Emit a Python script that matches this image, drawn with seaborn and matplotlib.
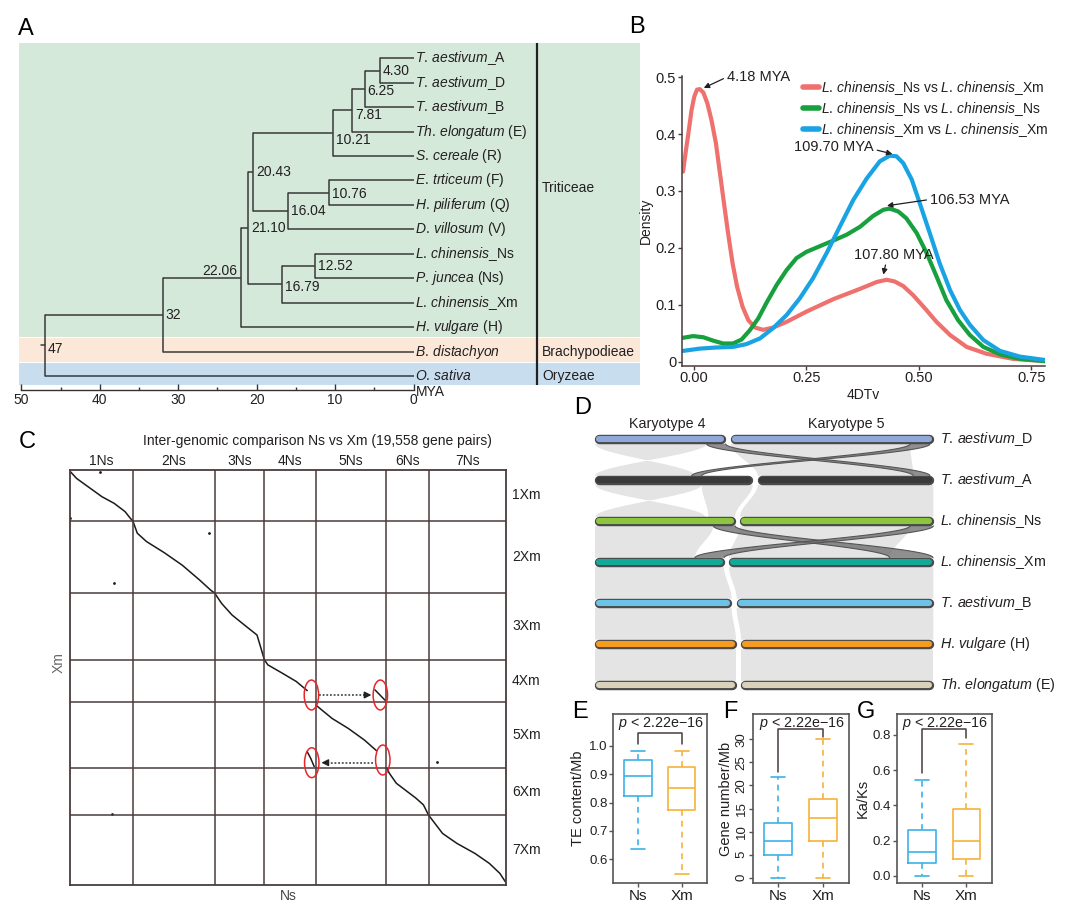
import numpy as np
import pandas as pd
import matplotlib
matplotlib.use('Agg')
import matplotlib.pyplot as plt
import seaborn as sns
from matplotlib.patches import Ellipse
from matplotlib.lines import Line2D

# ---------------- data ----------------
# A: dated phylogeny (node label = age in MYA), tips are indices
tip_italic = ['T. aestivum', 'T. aestivum', 'T. aestivum', 'Th. elongatum', 'S. cereale',
              'E. trticeum', 'H. piliferum', 'D. villosum', 'L. chinensis', 'P. juncea',
              'L. chinensis', 'H. vulgare', 'B. distachyon', 'O. sativa']
tip_suffix = ['_A', '_D', '_B', ' (E)', ' (R)', ' (F)', ' (Q)', ' (V)', '_Ns', ' (Ns)',
              '_Xm', ' (H)', '', '']
tree = ('47', 13, ('32', 12, ('22.06',
        ('21.10',
         ('20.43', ('10.21', ('7.81', ('6.25', ('4.30', 0, 1), 2), 3), 4),
                   ('16.04', ('10.76', 5, 6), 7)),
         ('16.79', ('12.52', 8, 9), 10)),
        11)))
groups = ['Triticeae', 'Brachypodieae', 'Oryzeae']
group_rows = [5.3, 12, 13]
scale_ticks = [50, 40, 30, 20, 10, 0]

# B: 4DTv density curves
red_x = [-0.024, -0.018, -0.012, -0.005, 0.001, 0.007, 0.013, 0.021, 0.030, 0.039, 0.049, 0.058,
         0.067, 0.076, 0.086, 0.096, 0.108, 0.121, 0.136, 0.154, 0.176, 0.206, 0.250, 0.310,
         0.369, 0.406, 0.428, 0.446, 0.465, 0.487, 0.513, 0.539, 0.569, 0.606, 0.650, 0.709, 0.780]
red_y = [0.334, 0.369, 0.402, 0.443, 0.466, 0.478, 0.479, 0.473, 0.454, 0.425, 0.384, 0.331,
         0.278, 0.226, 0.173, 0.132, 0.097, 0.073, 0.060, 0.056, 0.060, 0.070, 0.088, 0.110,
         0.128, 0.140, 0.144, 0.141, 0.133, 0.117, 0.094, 0.070, 0.047, 0.026, 0.014, 0.005, 0.001]
green_x = [-0.024, -0.002, 0.021, 0.043, 0.065, 0.087, 0.106, 0.124, 0.143, 0.161, 0.184, 0.206,
           0.228, 0.250, 0.280, 0.310, 0.339, 0.369, 0.398, 0.421, 0.435, 0.454, 0.472, 0.495,
           0.517, 0.539, 0.561, 0.587, 0.613, 0.643, 0.680, 0.724, 0.780]
green_y = [0.042, 0.045, 0.043, 0.037, 0.032, 0.032, 0.039, 0.055, 0.076, 0.103, 0.135, 0.161,
           0.182, 0.193, 0.203, 0.213, 0.223, 0.237, 0.256, 0.267, 0.269, 0.264, 0.252, 0.226,
           0.191, 0.150, 0.108, 0.073, 0.047, 0.026, 0.013, 0.005, 0.001]
blue_x = [-0.024, 0.013, 0.050, 0.087, 0.117, 0.147, 0.176, 0.206, 0.235, 0.265, 0.295, 0.324,
          0.354, 0.384, 0.413, 0.435, 0.450, 0.465, 0.484, 0.502, 0.524, 0.546, 0.569, 0.591,
          0.613, 0.643, 0.680, 0.724, 0.780]
blue_y = [0.019, 0.023, 0.025, 0.026, 0.031, 0.041, 0.059, 0.082, 0.111, 0.147, 0.191, 0.237,
          0.284, 0.322, 0.352, 0.362, 0.361, 0.349, 0.320, 0.278, 0.226, 0.173, 0.126, 0.091,
          0.065, 0.038, 0.019, 0.009, 0.003]
LC_IT = r'$\it{L.\,chinensis}$'
pair_names = [LC_IT + '_Ns vs ' + LC_IT + '_Xm',
              LC_IT + '_Ns vs ' + LC_IT + '_Ns',
              LC_IT + '_Xm vs ' + LC_IT + '_Xm']
pair_colors = ['#ef716d', '#17a03d', '#1aa3e3']
peak_text = ['4.18 MYA', '109.70 MYA', '106.53 MYA', '107.80 MYA']
peak_xy = [(0.022, 0.481), (0.441, 0.365), (0.429, 0.274), (0.421, 0.153)]

# C: Ns vs Xm dot plot (positions scaled to 1000)
ns_chr = ['1Ns', '2Ns', '3Ns', '4Ns', '5Ns', '6Ns', '7Ns']
ns_len = [145, 187, 114, 117, 161, 98, 178]
xm_chr = ['1Xm', '2Xm', '3Xm', '4Xm', '5Xm', '6Xm', '7Xm']
xm_len = [124, 173, 161, 102, 159, 113, 168]
diag_blocks = [
    ([2, 16, 37, 74, 102, 127, 139, 145], [5, 21, 37, 65, 81, 101, 117, 124]),
    ([145, 155, 176, 217, 258, 298, 323, 332], [124, 153, 173, 200, 230, 266, 290, 297]),
    ([332, 348, 372, 405, 429, 437, 446], [297, 322, 350, 378, 398, 426, 458]),
    ([446, 454, 487, 519, 544], [458, 470, 490, 510, 532]),
    ([699, 711, 722], [530, 543, 555]),
    ([564, 601, 638, 675, 703], [567, 599, 623, 651, 677]),
    ([544, 552, 560], [679, 695, 715]),
    ([726, 732, 748, 773, 793, 810, 822], [718, 731, 755, 775, 791, 807, 832]),
    ([822, 830, 854, 887, 928, 961, 985, 1000], [832, 843, 876, 900, 924, 948, 972, 996]),
]
stray_x = [70, 319, 101, 96, 842, 2]
stray_y = [5, 153, 274, 830, 705, 117]
circle_xy = [(553.6, 542.5), (711.4, 542.5), (554.4, 705.5), (717, 699)]
move_from = [(572, 542.5), (695, 705.5)]
move_to = [(691, 542.5), (576.5, 705.5)]

# D: karyotype 4/5 synteny
d_italic = ['T. aestivum', 'T. aestivum', 'L. chinensis', 'L. chinensis', 'T. aestivum',
            'H. vulgare', 'Th. elongatum']
d_suffix = ['_D', '_A', '_Ns', '_Xm', '_B', ' (H)', ' (E)']
k4_len = [392, 473, 420, 387, 410, 423, 423]
k5_len = [608, 527, 580, 613, 590, 577, 577]
d_colors = ['#8fa8d9', '#3a3a3a', '#8cc63f', '#14a899', '#6dc3e7', '#f59b1d', '#d9d1ba']
# (upper row, karyotype src, start, end, karyotype dst, start, end)
syn_blocks = [
    (0, 4, 0, 335, 4, 300, 0), (0, 5, 0, 538, 5, 0, 467),
    (1, 4, 0, 320, 4, 330, 0), (1, 4, 320, 473, 4, 340, 420), (1, 5, 0, 527, 5, 0, 580),
    (2, 4, 0, 355, 4, 0, 300), (2, 5, 0, 510, 5, 0, 482),
    (3, 4, 0, 387, 4, 0, 410), (3, 5, 0, 613, 5, 0, 590),
    (4, 4, 0, 410, 4, 0, 423), (4, 5, 0, 590, 5, 0, 577),
    (5, 4, 0, 423, 4, 0, 423), (5, 5, 0, 577, 5, 0, 577),
]
trans_blocks = [
    (0, 4, 335, 392, 5, 467, 517), (0, 5, 538, 598, 4, 290, 320),
    (2, 4, 355, 420, 5, 482, 612), (2, 5, 510, 580, 4, 300, 387),
]

# E-G: box summaries (min, Q1, median, Q3, max)
genomes = ['Ns', 'Xm']
te_ns = [0.637, 0.823, 0.894, 0.950, 0.982]
te_xm = [0.547, 0.772, 0.852, 0.926, 0.982]
gene_ns = [0.0, 4.9, 7.95, 11.9, 21.9]
gene_xm = [0.0, 7.95, 12.9, 17.0, 30.0]
kaks_ns = [0.0, 0.070, 0.133, 0.258, 0.544]
kaks_xm = [0.0, 0.093, 0.197, 0.381, 0.749]
box_colors = ['#3cb2e6', '#f8b23c']

# ---------------- style ----------------
sns.set_theme(style='white')
plt.rcParams['font.family'] = ['Liberation Sans', 'DejaVu Sans']
plt.rcParams['mathtext.fontset'] = 'custom'
plt.rcParams['mathtext.rm'] = 'Liberation Sans'
plt.rcParams['mathtext.it'] = 'Liberation Sans:italic'
TXT = '#231f20'
DARK = '#4a3b3b'

W, H = 1080, 919
fig = plt.figure(figsize=(W / 100, H / 100), dpi=100)


def box(l, t, r, b):
    return [l / W, 1 - b / H, (r - l) / W, (b - t) / H]


def ftext(x, y, s, **kw):
    kw.setdefault('color', TXT)
    fig.text(x / W, 1 - y / H, s, **kw)


def itl(a, b=''):
    return r'$\it{' + a.replace(' ', r'\,') + '}$' + b


for lab, (x, y) in zip('ABCDEFG', [(26, 29), (637, 27), (27, 442), (583, 408),
                                     (580, 712), (730, 712), (866, 712)]):
    ftext(x, y, lab, fontsize=17, ha='center', va='center', color='black')

# ---------------- A ----------------
ax = fig.add_axes(box(18.6, 43, 640, 385))
ax.set_xlim(50.36, -28.87)
ax.set_ylim(13.37, -0.626)
ax.axis('off')
ax.axhspan(-0.7, 11.42, color='#d5e9db', lw=0)
ax.axhspan(11.46, 12.43, color='#fce8d9', lw=0)
ax.axhspan(12.47, 13.5, color='#c8deee', lw=0)
ax.axvline(-15.7, color='#222222', lw=1.6)
LC = '#3a3a3a'
nudge = {'7.81': 0.2, '10.21': 0.3, '47': 0.15, '16.79': 0.1, '6.25': 0.07, '10.76': 0.07}


def walk(node):
    if isinstance(node, int):
        return 0.0, float(node)
    lab, c1, c2 = node
    age = float(lab)
    ys = []
    for c in (c1, c2):
        a, y = walk(c)
        ax.plot([age, a], [y, y], color=LC, lw=1.1, solid_capstyle='butt')
        ys.append(y)
    ax.plot([age, age], ys, color=LC, lw=1.1)
    ym = sum(ys) / 2
    if lab == '22.06':
        ax.text(age + 0.4, ym - 0.27, lab, ha='right', va='center', fontsize=10, color=TXT)
    else:
        ax.text(age - 0.35, ym + nudge.get(lab, 0), lab, ha='left', va='center',
                fontsize=10, color=TXT)
    return age, ym


root_age, root_y = walk(tree)
ax.plot([root_age + 0.5, root_age], [root_y, root_y], color=LC, lw=1.1)
for i, (a, b) in enumerate(zip(tip_italic, tip_suffix)):
    ax.text(-0.2, i, itl(a, b), ha='left', va='center', fontsize=10, color=TXT)
for g, r in zip(groups, group_rows):
    ax.text(-16.4, r, g, ha='left', va='center', fontsize=10, color=TXT)

axs = fig.add_axes(box(21.4, 389, 413.6, 390))
axs.set_xlim(50, 0)
axs.set_ylim(0, 1)
axs.set_facecolor('none')
for s in ['top', 'left', 'right']:
    axs.spines[s].set_visible(False)
axs.spines['bottom'].set_color('#333333')
axs.spines['bottom'].set_linewidth(1)
axs.set_yticks([])
axs.set_xticks(scale_ticks)
axs.set_xticks([45, 35, 25, 15, 5], minor=True)
axs.tick_params(axis='x', which='major', direction='in', length=4, width=1, bottom=True,
                labelsize=10, pad=2, colors='#333333', labelcolor=TXT)
axs.tick_params(axis='x', which='minor', direction='in', length=2.5, width=1, bottom=True,
                colors='#333333')
ftext(416, 392, 'MYA', fontsize=10, ha='left', va='center')

# ---------------- B ----------------
axb = fig.add_axes(box(681.7, 76, 1045, 365.7))
dfb = pd.concat([
    pd.DataFrame({'dtv': red_x, 'density': red_y, 'pair': pair_names[0]}),
    pd.DataFrame({'dtv': green_x, 'density': green_y, 'pair': pair_names[1]}),
    pd.DataFrame({'dtv': blue_x, 'density': blue_y, 'pair': pair_names[2]}),
])
sns.lineplot(data=dfb, x='dtv', y='density', hue='pair', hue_order=pair_names,
             palette=dict(zip(pair_names, pair_colors)), estimator=None, sort=False,
             lw=3, legend=False, ax=axb)
axb.set_xlim(-0.027, 0.78)
axb.set_ylim(-0.007, 0.502)
for s in ['top', 'right']:
    axb.spines[s].set_visible(False)
for s in ['left', 'bottom']:
    axb.spines[s].set_color(DARK)
    axb.spines[s].set_linewidth(1.1)
axb.set_xticks([0, 0.25, 0.5, 0.75])
axb.set_xticklabels(['0.00', '0.25', '0.50', '0.75'])
axb.set_yticks([0, 0.1, 0.2, 0.3, 0.4, 0.5])
axb.set_yticklabels(['0', '0.1', '0.2', '0.3', '0.4', '0.5'])
axb.tick_params(left=True, bottom=True, length=3, width=1, colors=DARK, labelcolor=TXT,
                labelsize=10.5, pad=1)
axb.set_xlabel('4DTv', fontsize=10, color=TXT, labelpad=2)
axb.set_ylabel('Density', fontsize=10, color=TXT, labelpad=2)
handles = [Line2D([0], [0], color=c, lw=4) for c in pair_colors]
axb.legend(handles, pair_names, loc='upper left', bbox_to_anchor=(0.335, 0.99),
           frameon=False, fontsize=10, handlelength=1.1, handletextpad=0.2,
           labelspacing=0.22, borderpad=0, borderaxespad=0, labelcolor=TXT)
text_pos = [(0.073, 0.5), (0.4, 0.378), (0.524, 0.285), (0.445, 0.188)]
text_ha = ['left', 'right', 'left', 'center']
relpos = [(0, 0.5), (1, 0.3), (0, 0.5), (0.4, 0)]
for t, xy, tp, ha, rp in zip(peak_text, peak_xy, text_pos, text_ha, relpos):
    axb.annotate(t, xy=xy, xytext=tp, ha=ha, va='center', fontsize=10.5, color=TXT,
                 arrowprops=dict(arrowstyle='-|>', color=TXT, lw=0.9, mutation_scale=8,
                                 shrinkA=0, shrinkB=0, relpos=rp))

# ---------------- C ----------------
axc = fig.add_axes(box(69.6, 469.7, 506.4, 885))
rows = []
for k, (bx, by) in enumerate(diag_blocks):
    for x, y in zip(bx, by):
        rows.append({'ns': x, 'xm': y, 'block': k})
dfc = pd.DataFrame(rows)
sns.lineplot(data=dfc, x='ns', y='xm', units='block', estimator=None, sort=False,
             color='#1e1a1a', lw=1.1, ax=axc)
sns.scatterplot(x=stray_x, y=stray_y, color='#1e1a1a', s=4, linewidth=0, ax=axc)
ns_edges = np.cumsum(ns_len)
xm_edges = np.cumsum(xm_len)
axc.set_xlim(0, ns_edges[-1])
axc.set_ylim(xm_edges[-1], 0)
for e in ns_edges[:-1]:
    axc.axvline(e, color=DARK, lw=1.1)
for e in xm_edges[:-1]:
    axc.axhline(e, color=DARK, lw=1.1)
for s in axc.spines.values():
    s.set_color(DARK)
    s.set_linewidth(1.3)
axc.set_xticks([])
axc.set_yticks([])
axc.set_xlabel('')
axc.set_ylabel('')
for lab, e, l in zip(ns_chr, ns_edges, ns_len):
    axc.text(e - l / 2, 1.022, lab, transform=axc.get_xaxis_transform(), ha='center',
             va='center', fontsize=10, color=TXT)
for lab, e, l in zip(xm_chr, xm_edges, xm_len):
    axc.text(1.013, e - l / 2, lab, transform=axc.get_yaxis_transform(), ha='left',
             va='center', fontsize=10, color=TXT)
for (cx, cy) in circle_xy:
    axc.add_patch(Ellipse((cx, cy), 33, 72, fill=False, ec='#e8262a', lw=1.1, zorder=5))
for (x0, y0), (x1, y1) in zip(move_from, move_to):
    d = np.sign(x1 - x0)
    axc.plot([x0, x1 - d * 12], [y0, y1], color='#333333', lw=1.1, ls=(0, (1.2, 1.2)))
    axc.annotate('', xy=(x1, y1), xytext=(x1 - d * 14, y1),
                 arrowprops=dict(arrowstyle='-|>', color='#222222', lw=1, mutation_scale=10,
                                 shrinkA=0, shrinkB=0))
ftext(317, 441, 'Inter-genomic comparison Ns vs Xm (19,558 gene pairs)', fontsize=10,
      ha='center', va='center')
ftext(59, 663, 'Xm', fontsize=10, ha='center', va='center', rotation=90, color='#666666')
ftext(288.6, 895.7, 'Ns', fontsize=10, ha='center', va='center', color='#444444')

# ---------------- D ----------------
axd = fig.add_axes(box(585, 430, 940, 695))
axd.set_xlim(-30, 1035)
axd.set_ylim(6.24, -0.23)
axd.axis('off')
GAP = 15
HALF = 0.11


def kx(row, kar, pos):
    return pos if kar == 4 else k4_len[row] + GAP + pos


def ribbon(r, ka, a0, a1, kb, b0, b1, **kw):
    t = np.linspace(0, 1, 80)
    s = t * t * (3 - 2 * t)
    ya, yb = r + HALF, r + 1 - HALF
    y = ya + (yb - ya) * t
    xa0, xa1 = kx(r, ka, a0), kx(r, ka, a1)
    xb0, xb1 = kx(r + 1, kb, b0), kx(r + 1, kb, b1)
    left = xa0 + (xb0 - xa0) * s
    right = xa1 + (xb1 - xa1) * s
    axd.fill(np.concatenate([left, right[::-1]]), np.concatenate([y, y[::-1]]), **kw)
    return left, right, y


for blk in syn_blocks:
    ribbon(*blk, color='#e3e4e3', lw=0, zorder=1)
for blk in trans_blocks:
    l, r, y = ribbon(*blk, color='#6a6a6a', alpha=0.75, lw=0, zorder=2)
    axd.plot(l, y, color='#555555', lw=0.8, zorder=2)
    axd.plot(r, y, color='#555555', lw=0.8, zorder=2)

CAP = 13
for i in range(len(k4_len)):
    for x0, x1 in [(0, k4_len[i]), (k4_len[i] + GAP, k4_len[i] + GAP + k5_len[i])]:
        axd.plot([x0 + CAP, x1 - CAP], [i, i], color='#4a4a4a', lw=6.8,
                 solid_capstyle='round', zorder=3)
        axd.plot([x0 + CAP, x1 - CAP], [i, i], color=d_colors[i], lw=4.4,
                 solid_capstyle='round', zorder=4)
    axd.text(1035, i, itl(d_italic[i], d_suffix[i]), ha='left', va='center', fontsize=10.3,
             color=TXT)
axd.text(216, -0.37, 'Karyotype 4', ha='center', va='center', fontsize=10.3, color=TXT)
axd.text(755, -0.37, 'Karyotype 5', ha='center', va='center', fontsize=10.3, color=TXT)

# ---------------- E, F, G ----------------
panels = [
    (box(613.3, 714, 707.3, 883.3), te_ns, te_xm, (0.5155, 1.112),
     [0.6, 0.7, 0.8, 0.9, 1.0], ['0.6', '0.7', '0.8', '0.9', '1.0'], 'TE content/Mb',
     (1.005, 1.046, 1.005), 1.079, 0, -0.30),
    (box(753.3, 714, 848.7, 883.3), gene_ns, gene_xm, (-1.21, 35.48),
     [0, 5, 10, 15, 20, 25, 30], ['0', '5', '10', '15', '20', '25', '30'], 'Gene number/Mb',
     (23.0, 32.2, 30.6), 33.5, 90, -0.215),
    (box(896.7, 714, 992.3, 883.3), kaks_ns, kaks_xm, (-0.043, 0.919),
     [0, 0.2, 0.4, 0.6, 0.8], ['0.0', '0.2', '0.4', '0.6', '0.8'], 'Ka/Ks',
     (0.582, 0.832, 0.781), 0.866, 0, -0.28),
]
for rect, v_ns, v_xm, ylim, yt, ytl, ylab, br, ptxt, rot, labx in panels:
    axp = fig.add_axes(rect)
    dfp = pd.DataFrame({'genome': ['Ns'] * len(v_ns) + ['Xm'] * len(v_xm),
                        'value': v_ns + v_xm})
    sns.boxplot(data=dfp, x='genome', y='value', hue='genome', order=genomes,
                palette=dict(zip(genomes, box_colors)), fill=False, whis=(0, 100),
                width=0.62, linewidth=1.2, legend=False, ax=axp,
                whiskerprops={'linestyle': (0, (3.5, 3))})
    axp.set_xlim(-0.56, 1.58)
    axp.set_ylim(*ylim)
    axp.set_yticks(yt)
    axp.set_yticklabels(ytl)
    for s in axp.spines.values():
        s.set_color('#555555')
        s.set_linewidth(1.2)
    axp.tick_params(left=True, bottom=True, length=3, width=1, colors='#555555',
                    labelcolor=TXT, pad=1.2)
    axp.tick_params(axis='x', labelsize=11)
    axp.tick_params(axis='y', labelsize=9.5, labelrotation=rot)
    if rot:
        for tl in axp.get_yticklabels():
            tl.set_va('center')
    axp.set_xlabel('')
    axp.set_ylabel(ylab, fontsize=10.5, color=TXT)
    axp.yaxis.set_label_coords(labx, 0.5)
    axp.plot([0, 0, 1, 1], [br[0], br[1], br[1], br[2]], color=DARK, lw=1.1, clip_on=False)
    axp.text(0.52, ptxt, r'$\it{p}$ < 2.22e−16', ha='center', va='center', fontsize=10.3,
             color=TXT)

fig.savefig('out.png', dpi=100)
